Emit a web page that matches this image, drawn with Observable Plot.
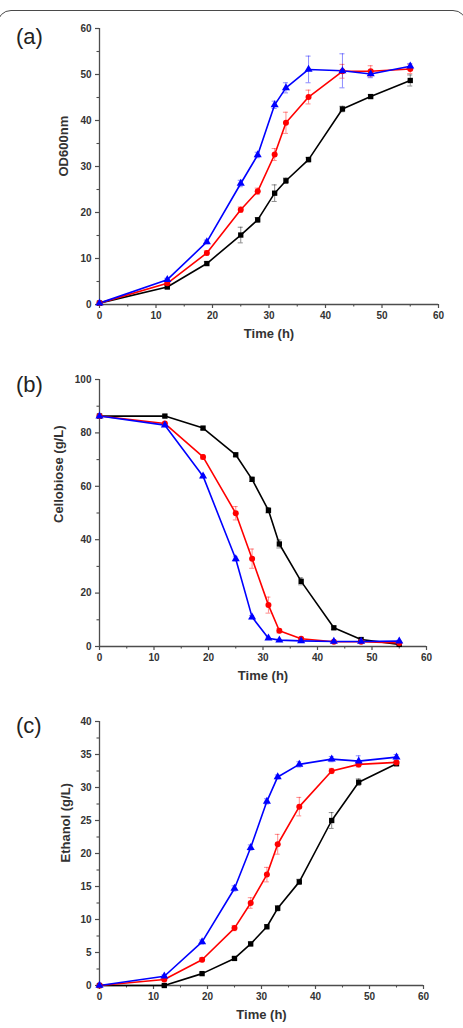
<!DOCTYPE html>
<html>
<head>
<meta charset="utf-8">
<script src="https://cdn.jsdelivr.net/npm/d3@7"></script>
<script src="https://cdn.jsdelivr.net/npm/@observablehq/plot@0.6"></script>
<style>
  body { margin: 0; background: #fff; }
  #fig { position: relative; width: 463px; height: 1028px; overflow: hidden;
         font-family: "Liberation Sans", Arial, sans-serif; }
  .frame { position: absolute; left: -3px; top: 10px; width: 470px; height: 1100px;
           border: 1.5px solid #4a4a4a; border-radius: 14px; box-sizing: border-box; }
  .tag { position: absolute; left: 16px; font-size: 22px; color: #222; line-height: 1; }
  #fig svg { position: absolute; left: 0; }
</style>
</head>
<body>
<div id="fig"><div class="frame"></div></div>
<script>
// Sampling times (h)
const hours = [0, 12, 19, 25, 28, 31, 33, 37, 43, 48, 55];
const strains = ["black", "red", "blue"];
const strainColors = ["#1e1e1e", "#ec1f26", "#2424dc"];
const strainSymbols = ["square", "circle", "triangle"];

// (a) cell growth, OD600
const odBlack = [0.3, 3.8, 8.9, 15.1, 18.4, 24.2, 26.9, 31.5, 42.5, 45.2, 48.7];
const odRed   = [0.3, 4.6, 11.2, 20.6, 24.6, 32.6, 39.5, 45.1, 50.7, 50.7, 51.2];
const odBlue  = [0.3, 5.4, 13.6, 26.3, 32.5, 43.4, 47.1, 51.1, 50.8, 50.1, 51.8];
const odBlackErr = [0, 0.3, 0.4, 1.7, 0.5, 1.8, 0.6, 0.5, 0.6, 0.4, 1.2];
const odRedErr   = [0, 0.3, 0.5, 0.6, 0.7, 1.3, 2.3, 1.5, 1.5, 1.2, 1.0];
const odBlueErr  = [0, 0.3, 0.4, 0.7, 0.6, 0.8, 1.1, 2.9, 3.7, 0.8, 0.6];

// (b) residual cellobiose (g/L)
const cbBlack = [86.3, 86.3, 81.8, 71.8, 62.6, 51.0, 38.4, 24.4, 7.0, 2.6, 0.8];
const cbRed   = [86.3, 83.5, 71.0, 49.9, 32.9, 15.5, 5.9, 2.9, 1.8, 1.8, 1.3];
const cbBlue  = [86.3, 82.9, 63.8, 32.8, 11.0, 3.1, 2.4, 2.1, 1.9, 1.9, 2.0];
const cbBlackErr = [0, 0.5, 0.6, 0.6, 0.8, 1.0, 1.5, 1.3, 0.6, 0.4, 0.3];
const cbRedErr   = [0, 0.5, 0.8, 2.5, 3.6, 3.0, 0.8, 0.5, 0.3, 0.3, 0.3];
const cbBlueErr  = [0, 0.5, 0.6, 0.8, 0.6, 0.4, 0.3, 0.3, 0.3, 0.3, 0.3];

// (c) ethanol titre (g/L)
const etBlack = [0, 0, 1.8, 4.1, 6.3, 8.9, 11.7, 15.7, 25.0, 30.8, 33.6];
const etRed   = [0, 0.9, 3.9, 8.7, 12.5, 16.8, 21.4, 27.1, 32.5, 33.5, 33.8];
const etBlue  = [0, 1.4, 6.6, 14.7, 20.9, 27.9, 31.6, 33.5, 34.3, 34.0, 34.6];
const etBlackErr = [0, 0.1, 0.2, 0.2, 0.3, 0.3, 0.4, 0.4, 1.2, 0.5, 0.3];
const etRedErr   = [0, 0.1, 0.3, 0.4, 0.8, 1.1, 1.5, 1.4, 0.4, 0.4, 0.3];
const etBlueErr  = [0, 0.2, 0.3, 0.4, 0.4, 0.4, 0.3, 0.4, 0.4, 0.8, 0.4];

const xMajor = [0, 10, 20, 30, 40, 50, 60];
const xMinor = [5, 15, 25, 35, 45, 55];

const fig = document.getElementById("fig");

function panel({tag, tagTop, top, height, mt, mb, ml, mr, yDomain, yMajor, yMinor, yLabel, yLabelDx, yLabelDy, values, errors}) {
  const rows = strains.flatMap((s, k) =>
    hours.map((t, i) => ({strain: s, t, v: values[k][i], e: errors[k][i]})));
  const bars = rows.filter(d => d.e > 0);
  const axisStroke = "#4d4d4d";
  const tickText = {fill: "#333", fontWeight: "bold", fontSize: 10};
  const capHalf = 0.45;
  const chart = Plot.plot({
    width: 463, height,
    marginTop: mt, marginBottom: mb, marginLeft: ml, marginRight: mr,
    x: {domain: [0, 60]},
    y: {domain: yDomain},
    color: {domain: strains, range: strainColors},
    symbol: {domain: strains, range: strainSymbols},
    style: {fontFamily: "'Liberation Sans', Arial, sans-serif", background: "transparent", overflow: "visible"},
    marks: [
      Plot.axisX(xMajor, {tickSize: 4, tickPadding: 3, stroke: axisStroke, strokeWidth: 1.2, label: null, ...tickText}),
      Plot.axisX(xMinor, {tickSize: 2.5, stroke: axisStroke, strokeWidth: 1.1, label: null, tickFormat: () => ""}),
      Plot.axisY(yMajor, {tickSize: 4, tickPadding: 4, stroke: axisStroke, strokeWidth: 1.2, label: null, ...tickText}),
      Plot.axisY(yMinor, {tickSize: 2.5, stroke: axisStroke, strokeWidth: 1.1, label: null, tickFormat: () => ""}),
      Plot.ruleX([0], {stroke: axisStroke, strokeWidth: 1.3}),
      Plot.ruleY([yDomain[0]], {stroke: axisStroke, strokeWidth: 1.3}),
      // standard deviation bars with caps
      Plot.ruleX(bars, {x: "t", y1: d => d.v - d.e, y2: d => d.v + d.e, stroke: "strain", strokeOpacity: 0.45, strokeWidth: 1}),
      Plot.ruleY(bars, {y: d => d.v + d.e, x1: d => d.t - capHalf, x2: d => d.t + capHalf, stroke: "strain", strokeOpacity: 0.45, strokeWidth: 1}),
      Plot.ruleY(bars, {y: d => d.v - d.e, x1: d => d.t - capHalf, x2: d => d.t + capHalf, stroke: "strain", strokeOpacity: 0.45, strokeWidth: 1}),
      Plot.line(rows, {x: "t", y: "v", z: "strain", stroke: "strain", strokeWidth: 1.6}),
      Plot.dot(rows, {x: "t", y: "v", fill: "strain", symbol: "strain", r: 3, stroke: "none"}),
      Plot.text(["Time (h)"], {frameAnchor: "bottom", dy: 33, fontSize: 13, fontWeight: "bold", fill: "#333"}),
      Plot.text([yLabel], {frameAnchor: "left", rotate: -90, dx: yLabelDx, dy: yLabelDy, fontSize: 13, fontWeight: "bold", fill: "#333"})
    ]
  });
  chart.style.top = top + "px";
  fig.appendChild(chart);
  const t = document.createElement("div");
  t.className = "tag";
  t.style.top = tagTop + "px";
  t.textContent = tag;
  fig.appendChild(t);
}

panel({
  tag: "(a)", tagTop: 26, top: 0, height: 345, mt: 28, mb: 41, ml: 99, mr: 25,
  yDomain: [0, 60], yMajor: [0, 10, 20, 30, 40, 50, 60], yMinor: [5, 15, 25, 35, 45, 55],
  yLabel: "OD600nm", yLabelDx: -36, yLabelDy: 10,
  values: [odBlack, odRed, odBlue], errors: [odBlackErr, odRedErr, odBlueErr]
});

panel({
  tag: "(b)", tagTop: 374, top: 345, height: 340, mt: 34, mb: 39, ml: 99, mr: 37,
  yDomain: [0, 100], yMajor: [0, 20, 40, 60, 80, 100], yMinor: [10, 30, 50, 70, 90],
  yLabel: "Cellobiose (g/L)", yLabelDx: -41, yLabelDy: 10,
  values: [cbBlack, cbRed, cbBlue], errors: [cbBlackErr, cbRedErr, cbBlueErr]
});

panel({
  tag: "(c)", tagTop: 715, top: 685, height: 343, mt: 36, mb: 43, ml: 99, mr: 40,
  yDomain: [0, 40], yMajor: [0, 5, 10, 15, 20, 25, 30, 35, 40], yMinor: [2.5, 7.5, 12.5, 17.5, 22.5, 27.5, 32.5, 37.5],
  yLabel: "Ethanol (g/L)", yLabelDx: -34, yLabelDy: 9,
  values: [etBlack, etRed, etBlue], errors: [etBlackErr, etRedErr, etBlueErr]
});
</script>
</body>
</html>
